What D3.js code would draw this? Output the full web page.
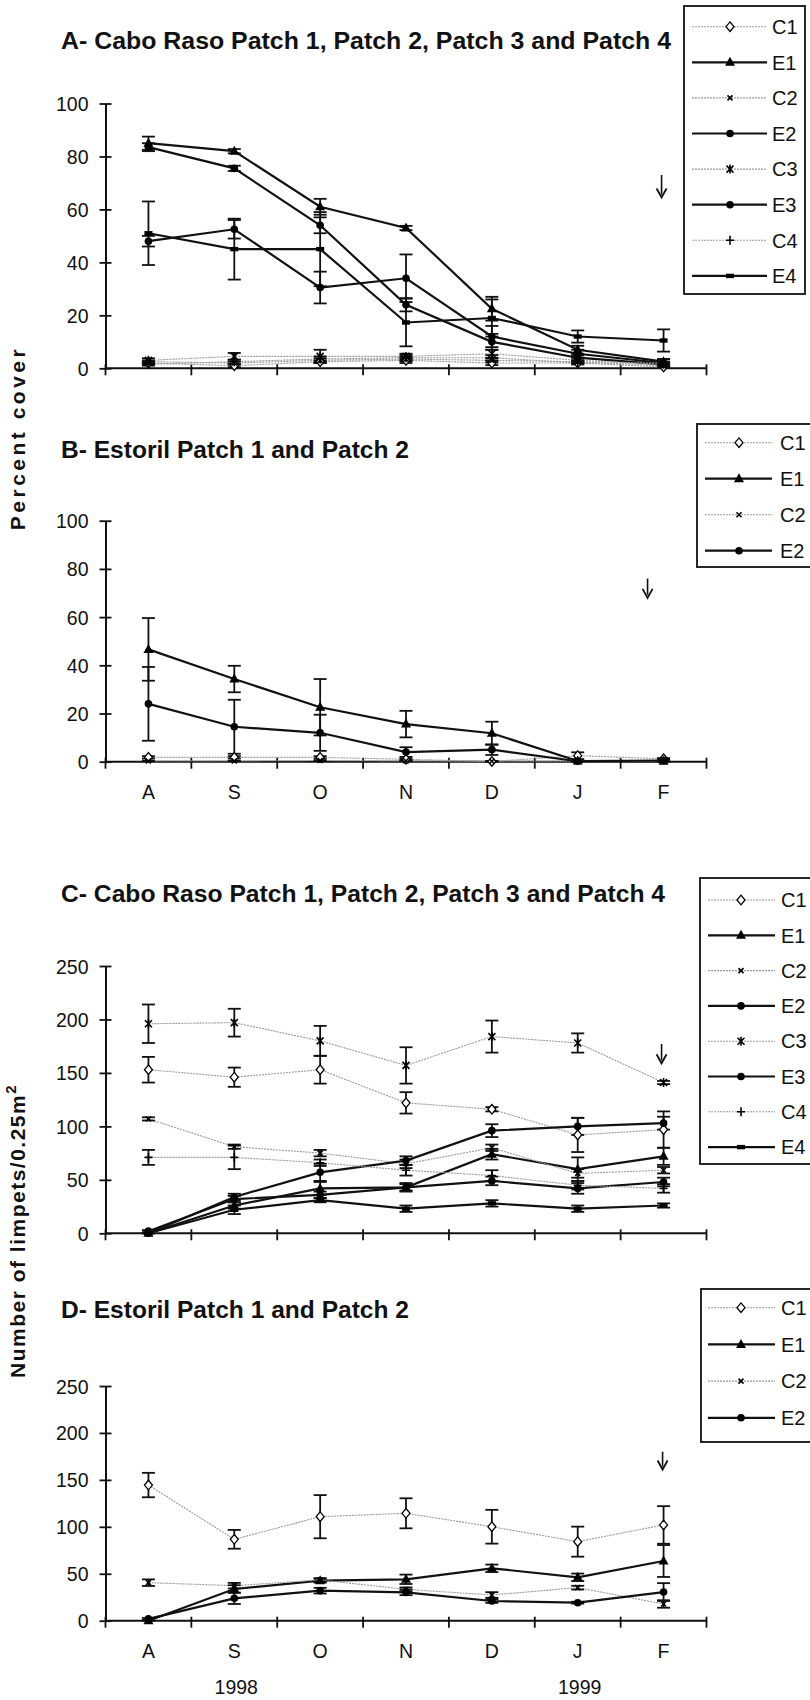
<!DOCTYPE html>
<html><head><meta charset="utf-8">
<script src="https://cdn.jsdelivr.net/npm/d3@7"></script>
<style>body{margin:0;background:#fff}</style>
</head><body><svg id="c" width="810" height="1700"></svg>
<script>
// ---------- data ----------
const months = ["A","S","O","N","D","J","F"];
const years = [{label:"1998", at:"S"}, {label:"1999", at:"J"}];
const seriesNames8 = ["C1","E1","C2","E2","C3","E3","C4","E4"];
const seriesNames4 = ["C1","E1","C2","E2"];
const coverTicks = [0,20,40,60,80,100];
const countTicks = [0,50,100,150,200,250];

// A - percent cover, Cabo Raso
const coverCR_C1 = [2, 1, 2.5, 3, 2, 2, 0.5];
const coverCR_C1err = [0.5, 0.5, 0.5, 1, 0.8, 0.5, 0.3];
const coverCR_E1 = [85, 82, 61, 53, 22.5, 7, 2.5];
const coverCR_E1err = [2.5, 0.8, 3, 0.8, 4.5, 1.5, 1];
const coverCR_C2 = [2.5, 2, 3, 3.5, 3, 2.5, 1];
const coverCR_C2err = [0.5, 0.5, 0.8, 0.8, 0.8, 0.5, 0.3];
const coverCR_E2 = [83.5, 75.5, 54, 24, 10, 4, 1.5];
const coverCR_E2err = [1.5, 1, 3, 2.5, 3, 1, 1];
const coverCR_C3 = [3, 4.5, 4.5, 4.5, 5.5, 3, 1.5];
const coverCR_C3err = [0.8, 1.3, 2.5, 1, 1.5, 1, 0.5];
const coverCR_E3 = [48, 52.5, 30.5, 34, 12, 5.5, 2];
const coverCR_E3err = [2, 3.5, 6, 9, 4, 1.5, 1.5];
const coverCR_C4 = [1.5, 2.5, 3.5, 4, 4, 2, 2];
const coverCR_C4err = [0.5, 0.8, 1, 1, 1, 0.5, 0.5];
const coverCR_E4 = [51, 45, 45, 17.3, 19, 12, 10.5];
const coverCR_E4err = [12, 11.5, 14, 9, 7, 2.3, 4.2];

// B - percent cover, Estoril
const coverES_C1 = [1.8, 1.8, 1.8, 1.0, 0.1, 2.5, 1.2];
const coverES_C1err = [0.5, 0.5, 0.5, 0.3, 0.1, 1.4, 0.3];
const coverES_E1 = [46.6, 34.3, 22.6, 15.6, 11.8, 0.3, 0.2];
const coverES_E1err = [13, 5.5, 11.7, 5.5, 4.8, 0.2, 0.2];
const coverES_C2 = [0.3, 0.3, 0.5, 0.3, 0.2, 0.2, 0.2];
const coverES_C2err = [0.1, 0.1, 0.1, 0.1, 0.1, 0.1, 0.1];
const coverES_E2 = [24, 14.5, 12, 4, 5, 0.2, 0.5];
const coverES_E2err = [15.3, 11.2, 7.5, 2, 2.2, 0.1, 0.3];

// C - limpets, Cabo Raso
const limpCR_C1 = [153, 146, 153, 122, 116, 92, 97];
const limpCR_C1err = [12, 9, 13, 10, 2, 16, 17];
const limpCR_E1 = [0, 26, 42, 43, 74, 60, 72];
const limpCR_E1err = [0.5, 3, 6, 3, 5, 11, 8];
const limpCR_C2 = [107, 81, 75, 65, 80, 56, 59];
const limpCR_C2err = [1.5, 2, 3, 4, 3, 4, 3];
const limpCR_E2 = [2, 32, 36, 43, 49, 42, 48];
const limpCR_E2err = [1, 3, 3, 4, 4, 5, 4];
const limpCR_C3 = [196, 197, 180, 157, 184, 178, 141];
const limpCR_C3err = [18, 13, 14, 17, 15, 9, 1.5];
const limpCR_E3 = [0, 34, 57, 68, 96, 100, 103];
const limpCR_E3err = [0.5, 3, 8, 4, 6, 8, 6];
const limpCR_C4 = [71, 71, 66, 59, 54, 45, 42];
const limpCR_C4err = [7, 11, 3, 5, 5, 4, 4];
const limpCR_E4 = [0, 22, 31, 23, 28, 23, 26];
const limpCR_E4err = [0.5, 4, 2, 3, 3, 3, 2];

// D - limpets, Estoril
const limpES_C1 = [144.5, 86.7, 110.8, 114.4, 100.1, 84.2, 102];
const limpES_C1err = [13, 10, 23, 16, 18, 16, 20];
const limpES_E1 = [0, 33.8, 42.6, 44.1, 55.8, 46.2, 63.6];
const limpES_E1err = [0.5, 4, 2, 5, 4, 4, 17];
const limpES_C2 = [40.5, 37.3, 43.4, 33.4, 27.4, 35.2, 17.8];
const limpES_C2err = [3.5, 3, 2, 2, 3, 2, 4];
const limpES_E2 = [2, 23.8, 32, 30.2, 21, 19.2, 30.5];
const limpES_E2err = [1, 6, 3, 3, 2, 1, 9.5];

// ---------- styles ----------
const markerPaths = {
  C1: {d:"M0,-4.8L4,0L0,4.8L-4,0Z", fill:"#fff", stroke:"#000", sw:1.3},
  E1: {d:"M0,-5.5L5,3.5L-5,3.5Z", fill:"#000", stroke:"none", sw:0},
  C2: {d:"M-2.5,-2.5L2.5,2.5M-2.5,2.5L2.5,-2.5", fill:"none", stroke:"#000", sw:1.6},
  E2: {d:"M-3.8,0A3.8,3.8 0 1 0 3.8,0A3.8,3.8 0 1 0 -3.8,0Z", fill:"#000", stroke:"none", sw:0},
  C3: {d:"M-3.5,-3.5L3.5,3.5M-3.5,3.5L3.5,-3.5M0,-4.5L0,4.5", fill:"none", stroke:"#000", sw:1.6},
  E3: {d:"M-3.8,0A3.8,3.8 0 1 0 3.8,0A3.8,3.8 0 1 0 -3.8,0Z", fill:"#000", stroke:"none", sw:0},
  C4: {d:"M-4,0L4,0M0,-4.5L0,4.5", fill:"none", stroke:"#000", sw:1.6},
  E4: {d:"M-4,-2.2L4,-2.2L4,2.2L-4,2.2Z", fill:"#000", stroke:"none", sw:0}
};
const isControl = n => n[0] === "C";

const FONT = "'Liberation Sans', Arial, sans-serif";
const svg = d3.select("#c");

const panels = [
  {title:"A- Cabo Raso Patch 1, Patch 2, Patch 3 and Patch 4", titleY:48.5, titleW:610,
   y0:368.3, yTop:103.5, max:100, ticks:coverTicks, showX:false,
   names:seriesNames8,
   vals:[coverCR_C1,coverCR_E1,coverCR_C2,coverCR_E2,coverCR_C3,coverCR_E3,coverCR_C4,coverCR_E4],
   errs:[coverCR_C1err,coverCR_E1err,coverCR_C2err,coverCR_E2err,coverCR_C3err,coverCR_E3err,coverCR_C4err,coverCR_E4err],
   legend:{x:684, w:121, top:6, first:26.7, step:35.6, bottom:294, lx1:692, lx2:767, mx:730, tx:772},
   arrow:{at:"F", off:-2, v1:73, v2:64.5}},
  {title:"B- Estoril Patch 1 and Patch 2", titleY:458.3, titleW:348,
   y0:761.7, yTop:520.7, max:100, ticks:coverTicks, showX:true,
   names:seriesNames4,
   vals:[coverES_C1,coverES_E1,coverES_C2,coverES_E2],
   errs:[coverES_C1err,coverES_E1err,coverES_C2err,coverES_E2err],
   legend:{x:697, w:130, top:424, first:442.7, step:36, bottom:567, lx1:705, lx2:772, mx:739, tx:780},
   arrow:{at:"F", off:-16, v1:76, v2:68}},
  {title:"C- Cabo Raso Patch 1, Patch 2, Patch 3 and Patch 4", titleY:901.7, titleW:604,
   y0:1233.3, yTop:966, max:250, ticks:countTicks, showX:false,
   names:seriesNames8,
   vals:[limpCR_C1,limpCR_E1,limpCR_C2,limpCR_E2,limpCR_C3,limpCR_E3,limpCR_C4,limpCR_E4],
   errs:[limpCR_C1err,limpCR_E1err,limpCR_C2err,limpCR_E2err,limpCR_C3err,limpCR_E3err,limpCR_C4err,limpCR_E4err],
   legend:{x:700, w:130, top:878, first:900, step:35.3, bottom:1164, lx1:708, lx2:775, mx:741, tx:781},
   arrow:{at:"F", off:-2, v1:177, v2:159}},
  {title:"D- Estoril Patch 1 and Patch 2", titleY:1318, titleW:348,
   y0:1620.7, yTop:1386, max:250, ticks:countTicks, showX:true, showYears:true,
   names:seriesNames4,
   vals:[limpES_C1,limpES_E1,limpES_C2,limpES_E2],
   errs:[limpES_C1err,limpES_E1err,limpES_C2err,limpES_E2err],
   legend:{x:701, w:130, top:1289, first:1307.7, step:36.7, bottom:1442, lx1:708, lx2:775, mx:741, tx:781},
   arrow:{at:"F", off:-1, v1:180, v2:161}}
];

const xLeft = 105.5, xRight = 706.5;
const x = d3.scaleBand().domain(months).range([xLeft, xRight]);
const xc = m => x(m) + x.bandwidth()/2;

panels.forEach(p => {
  const y = d3.scaleLinear().domain([0, p.max]).range([p.y0, p.yTop]);
  const g = svg.append("g");

  // title
  g.append("text").attr("x", 61).attr("y", p.titleY)
    .attr("font-family", FONT).attr("font-weight", "bold").attr("font-size", 23)
    .attr("textLength", p.titleW).attr("lengthAdjust", "spacingAndGlyphs")
    .attr("fill", "#111").text(p.title);

  // y axis
  const ya = g.append("g").attr("transform", `translate(${xLeft},0)`)
    .call(d3.axisLeft(y).tickValues(p.ticks).tickSize(6).tickPadding(11).tickSizeOuter(0));
  ya.select(".domain").attr("stroke", "#111").attr("stroke-width", 2);
  ya.selectAll(".tick line").attr("x1", -6).attr("x2", 6).attr("stroke", "#111").attr("stroke-width", 1.8);
  ya.selectAll(".tick text").attr("font-family", FONT).attr("font-size", 19.5).attr("fill", "#111").attr("dy", "0.36em");

  // x axis line + boundary ticks
  g.append("line").attr("x1", xLeft).attr("x2", xRight).attr("y1", y(0)).attr("y2", y(0))
    .attr("stroke", "#111").attr("stroke-width", 2);
  const bounds = months.map(m => x(m)).concat([x(months[months.length-1]) + x.bandwidth()]);
  g.selectAll(".xt").data(bounds).join("line")
    .attr("x1", d => d).attr("x2", d => d).attr("y1", y(0) - 4).attr("y2", y(0) + 7)
    .attr("stroke", "#111").attr("stroke-width", 1.8);
  if (p.showX) {
    g.selectAll(".xl").data(months).join("text")
      .attr("x", d => xc(d)).attr("y", y(0) + 37).attr("text-anchor", "middle")
      .attr("font-family", FONT).attr("font-size", 19.5).attr("fill", "#111").text(d => d);
  }
  if (p.showYears) {
    g.selectAll(".yr").data(years).join("text")
      .attr("x", d => xc(d.at) + 2).attr("y", y(0) + 73).attr("text-anchor", "middle")
      .attr("font-family", FONT).attr("font-size", 19.5).attr("fill", "#111").text(d => d.label);
  }

  const line = d3.line().x((d, i) => xc(months[i])).y(d => y(d));

  p.names.forEach((n, si) => {
    g.append("path").datum(p.vals[si]).attr("d", line).attr("fill", "none")
      .attr("stroke", isControl(n) ? "#9a9a9a" : "#111")
      .attr("stroke-width", isControl(n) ? 1.1 : 2.2)
      .attr("stroke-dasharray", isControl(n) ? "2,1" : null);
  });
  // error bars
  p.names.forEach((n, si) => {
    const eg = g.append("g").attr("stroke", "#111").attr("stroke-width", 1.8);
    p.vals[si].forEach((v, i) => {
      const e = p.errs[si][i];
      const cx = xc(months[i]);
      const yt = y(Math.min(p.max, v + e)), yb = y(Math.max(0, v - e));
      eg.append("line").attr("x1", cx).attr("x2", cx).attr("y1", yt).attr("y2", yb);
      eg.append("line").attr("x1", cx - 6.5).attr("x2", cx + 6.5).attr("y1", yt).attr("y2", yt);
      eg.append("line").attr("x1", cx - 6.5).attr("x2", cx + 6.5).attr("y1", yb).attr("y2", yb);
    });
  });
  // markers
  p.names.forEach((n, si) => {
    const mk = markerPaths[n];
    g.selectAll(null).data(p.vals[si]).join("path")
      .attr("transform", (d, i) => `translate(${xc(months[i])},${y(d)})`)
      .attr("d", mk.d).attr("fill", mk.fill).attr("stroke", mk.stroke).attr("stroke-width", mk.sw);
  });

  // arrow
  const ax = xc(p.arrow.at) + p.arrow.off;
  const a1 = y(p.arrow.v1), a2 = y(p.arrow.v2);
  g.append("line").attr("x1", ax).attr("x2", ax).attr("y1", a1).attr("y2", a2 - 3)
    .attr("stroke", "#111").attr("stroke-width", 1.6);
  g.append("path").attr("d", `M${ax-5},${a2-9}L${ax},${a2}L${ax+5},${a2-9}`)
    .attr("fill", "none").attr("stroke", "#111").attr("stroke-width", 1.8);

  // legend
  const L = p.legend;
  const lg = g.append("g");
  lg.append("rect").attr("x", L.x).attr("y", L.top).attr("width", L.w).attr("height", L.bottom - L.top)
    .attr("fill", "#fff").attr("stroke", "#111").attr("stroke-width", 1.8);
  p.names.forEach((n, si) => {
    const ly = L.first + si * L.step;
    lg.append("line").attr("x1", L.lx1).attr("x2", L.lx2).attr("y1", ly).attr("y2", ly)
      .attr("stroke", isControl(n) ? "#9a9a9a" : "#111")
      .attr("stroke-width", isControl(n) ? 1.1 : 2.2)
      .attr("stroke-dasharray", isControl(n) ? "2,1" : null);
    const mk = markerPaths[n];
    lg.append("path").attr("transform", `translate(${L.mx},${ly})`).attr("d", mk.d)
      .attr("fill", mk.fill).attr("stroke", mk.stroke).attr("stroke-width", mk.sw);
    lg.append("text").attr("x", L.tx).attr("y", ly).attr("dy", "0.36em")
      .attr("font-family", FONT).attr("font-size", 20).attr("fill", "#111").text(n);
  });
});

// y axis titles
svg.append("text").attr("transform", "translate(25,438) rotate(-90)")
  .attr("text-anchor", "middle").attr("font-family", FONT).attr("font-weight", "bold")
  .attr("font-size", 21).attr("fill", "#111").attr("letter-spacing", 3.5).text("Percent cover");
const t2 = svg.append("text").attr("transform", "translate(25,1231) rotate(-90)")
  .attr("text-anchor", "middle").attr("font-family", FONT).attr("font-weight", "bold")
  .attr("font-size", 21).attr("fill", "#111").attr("letter-spacing", 1.5);
t2.append("tspan").text("Number of limpets/0.25m");
t2.append("tspan").attr("dy", -9).attr("font-size", 15).text("2");
</script></body></html>
